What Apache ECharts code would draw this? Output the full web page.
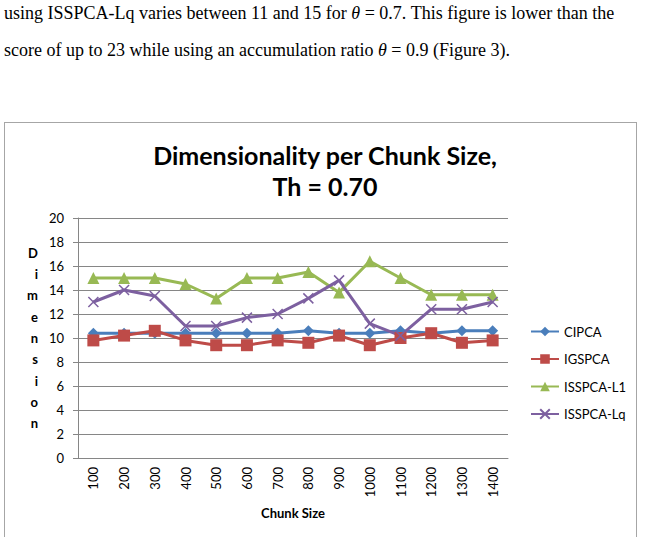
<!DOCTYPE html>
<html>
<head>
<meta charset="utf-8">
<script src="https://cdn.jsdelivr.net/npm/echarts@6/dist/echarts.min.js"></script>
<style>
  html, body { margin: 0; padding: 0; background: #fff; overflow: hidden; }
  #text {
    position: absolute; left: 4px; top: -5px; width: 640px;
    font-family: "Liberation Serif", "DejaVu Serif", serif; font-size: 18px;
    line-height: 37px; color: #000; z-index: 2; white-space: nowrap;
  }
  #box {
    position: absolute; left: 4px; top: 122px; width: 631px; height: 430px;
    border: 1.5px solid #a6a6a6;
  }
  #main { position: absolute; left: 0; top: 0; width: 646px; height: 537px; z-index: 3; }
</style>
</head>
<body>
<div id="text">using ISSPCA-Lq varies between 11 and 15 for <i>θ</i> = 0.7. This figure is lower than the<br>score of up to 23 while using an accumulation ratio <i>θ</i> = 0.9 (Figure 3).</div>
<div id="box"></div>
<div id="main"></div>
<script>
  const chunk_sizes = ['100', '200', '300', '400', '500', '600', '700', '800', '900', '1000', '1100', '1200', '1300', '1400'];
  const cipca = [10.4, 10.4, 10.4, 10.4, 10.4, 10.4, 10.4, 10.6, 10.4, 10.4, 10.6, 10.4, 10.6, 10.6];
  const igspca = [9.8, 10.2, 10.6, 9.8, 9.4, 9.4, 9.8, 9.6, 10.2, 9.4, 10, 10.4, 9.6, 9.8];
  const isspca_l1 = [15, 15, 15, 14.5, 13.3, 15, 15, 15.5, 13.8, 16.4, 15, 13.6, 13.6, 13.6];
  const isspca_lq = [13, 14, 13.5, 11, 11, 11.7, 12, 13.3, 14.8, 11.2, 10.2, 12.4, 12.4, 13];

  const font = 'Lato';
  const grid_color = '#868686';
  const cross = 'path://M0,0 L10,10 M10,0 L0,10';

  function make_series(name, data, color, symbol, size) {
    const s = {
      name: name,
      type: 'line',
      data: data,
      symbol: symbol,
      symbolSize: size,
      lineStyle: { color: color, width: 3 },
      itemStyle: { color: color }
    };
    if (symbol === cross) {
      s.itemStyle = { color: 'rgba(0,0,0,0)', borderColor: color, borderWidth: 1.5 };
    }
    return s;
  }

  const chart = echarts.init(document.getElementById('main'), null, { renderer: 'svg' });
  chart.setOption({
    animation: false,
    title: {
      text: 'Dimensionality per Chunk Size,\nTh = 0.70',
      left: 320,
      textAlign: 'center',
      top: 134,
      textStyle: { fontFamily: font, fontWeight: 'bold', fontSize: 25, lineHeight: 31, color: '#000' }
    },
    legend: {
      orient: 'vertical',
      left: 525,
      top: 320,
      itemWidth: 28,
      itemHeight: 12,
      itemGap: 14.5,
      textStyle: { fontFamily: font, fontSize: 13, color: '#000' },
      data: ['CIPCA', 'IGSPCA', 'ISSPCA-L1', 'ISSPCA-Lq']
    },
    grid: { left: 78, right: 138, top: 218, bottom: 79 },
    xAxis: {
      type: 'category',
      data: chunk_sizes,
      boundaryGap: true,
      name: 'Chunk Size',
      nameLocation: 'middle',
      nameGap: 48,
      nameTextStyle: { fontFamily: font, fontWeight: 'bold', fontSize: 13, color: '#000' },
      axisLine: { lineStyle: { color: grid_color } },
      axisTick: { length: 5, lineStyle: { color: grid_color } },
      axisLabel: { rotate: 90, fontFamily: font, fontSize: 13, color: '#000', margin: 9 }
    },
    yAxis: {
      type: 'value',
      min: 0,
      max: 20,
      interval: 2,
      name: 'D\ni\nm\ne\nn\ns\ni\no\nn',
      nameLocation: 'middle',
      nameRotate: 0,
      nameGap: 40,
      nameTextStyle: { fontFamily: font, fontWeight: 'bold', fontSize: 13, lineHeight: 21.3, color: '#000' },
      axisLine: { show: true, lineStyle: { color: grid_color } },
      axisTick: { show: true, length: 5, lineStyle: { color: grid_color } },
      axisLabel: { fontFamily: font, fontSize: 13, color: '#000', margin: 14 },
      splitLine: { lineStyle: { color: grid_color } }
    },
    series: [
      make_series('CIPCA', cipca, '#4a7ebb', 'diamond', 11),
      make_series('IGSPCA', igspca, '#be4b48', 'rect', 12),
      make_series('ISSPCA-L1', isspca_l1, '#98b954', 'triangle', 12),
      make_series('ISSPCA-Lq', isspca_lq, '#7d60a0', cross, 10)
    ]
  });
</script>
</body>
</html>
